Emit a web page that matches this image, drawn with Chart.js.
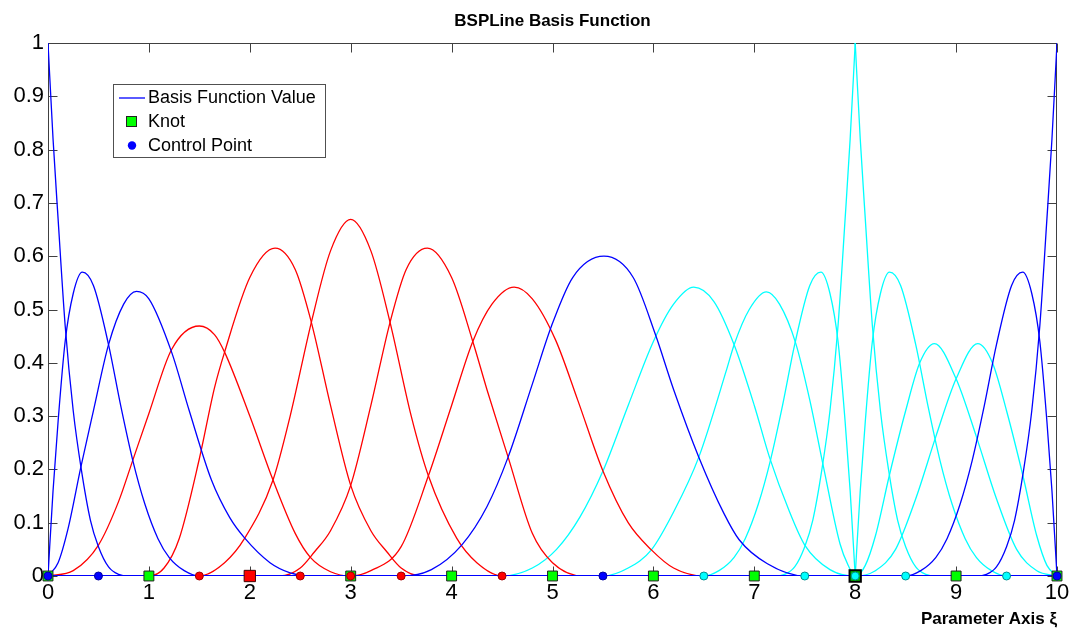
<!DOCTYPE html>
<html>
<head>
<meta charset="utf-8">
<script src="https://cdn.jsdelivr.net/npm/chart.js@4.4.1/dist/chart.umd.min.js"></script>
<style>
  body { margin: 0; background: #fff; }
  #wrap { width: 1070px; height: 628px; }
</style>
</head>
<body>
<div id="wrap"><canvas id="chart" width="1070" height="628"></canvas></div>
<script>
// basis function samples, [xi, value]
const B0 = [[0,1],[0.05,0.82],[0.1,0.67],[0.17,0.47],[0.25,0.31],[0.33,0.2],[0.42,0.105],[0.5,0.055],[0.6,0.017],[0.7,0.003],[0.8,0],[10,0]];
const B1 = [[0,0],[0.05,0.16],[0.1,0.29],[0.17,0.44],[0.25,0.53],[0.34,0.57],[0.45,0.545],[0.6,0.434],[0.72,0.32],[0.84,0.217],[0.96,0.135],[1.09,0.07],[1.2,0.035],[1.35,0.01],[1.5,0],[10,0]];
const B2 = [[0,0],[0.1,0.025],[0.2,0.09],[0.325,0.204],[0.45,0.31],[0.6,0.434],[0.75,0.51],[0.877,0.534],[1.0,0.52],[1.225,0.42],[1.4,0.31],[1.62,0.18],[1.8,0.11],[1.95,0.071],[2.2,0.025],[2.4,0.006],[2.6,0],[10,0]];
const B3 = [[0,0],[0.25,0.01],[0.5,0.058],[0.7,0.14],[0.84,0.217],[1.0,0.305],[1.225,0.425],[1.5,0.469],[1.65,0.453],[1.75,0.42],[2.0,0.3],[2.23,0.18],[2.45,0.08],[2.6,0.035],[2.8,0.008],[3.0,0],[10,0]];
const B4 = [[0,0],[1.0,0],[1.15,0.015],[1.3,0.07],[1.5,0.22],[1.65,0.353],[1.75,0.42],[2.0,0.56],[2.25,0.615],[2.45,0.575],[2.61,0.476],[2.8,0.32],[3.0,0.17],[3.2,0.085],[3.36,0.045],[3.5,0.015],[3.7,0],[10,0]];
const B5 = [[0,0],[1.5,0],[1.75,0.025],[1.95,0.071],[2.23,0.18],[2.4,0.3],[2.61,0.476],[2.8,0.61],[3.0,0.669],[3.2,0.61],[3.39,0.476],[3.6,0.3],[3.77,0.188],[4.05,0.071],[4.25,0.025],[4.5,0],[10,0]];
const B6 = [[0,0],[2.3,0],[2.5,0.015],[2.64,0.045],[2.8,0.085],[3.0,0.17],[3.2,0.32],[3.39,0.476],[3.55,0.575],[3.76,0.615],[4.0,0.56],[4.21,0.44],[4.35,0.35],[4.56,0.223],[4.8,0.08],[5.0,0.025],[5.3,0],[10,0]];
const B7 = [[0,0],[3.0,0],[3.2,0.01],[3.5,0.055],[3.77,0.188],[4.0,0.32],[4.21,0.44],[4.4,0.51],[4.62,0.542],[4.8,0.52],[5.03,0.443],[5.25,0.33],[5.5,0.197],[5.75,0.1],[5.98,0.049],[6.2,0.015],[6.5,0],[10,0]];
const B8 = [[0,0],[3.5,0],[3.8,0.012],[4.1,0.058],[4.35,0.13],[4.56,0.223],[4.8,0.36],[4.99,0.469],[5.2,0.56],[5.51,0.6],[5.8,0.56],[6.02,0.453],[6.2,0.35],[6.45,0.223],[6.7,0.117],[6.85,0.068],[7.13,0.023],[7.5,0],[10,0]];
const B9 = [[0,0],[4.5,0],[4.8,0.015],[5.04,0.05],[5.27,0.11],[5.5,0.197],[5.75,0.32],[6.0,0.44],[6.2,0.51],[6.4,0.542],[6.6,0.515],[6.8,0.434],[7.0,0.32],[7.15,0.223],[7.35,0.12],[7.5,0.058],[7.75,0.012],[8.0,0],[10,0]];
const B10 = [[0,0],[5.5,0],[5.75,0.015],[5.98,0.049],[6.2,0.12],[6.45,0.223],[6.73,0.39],[6.8,0.434],[6.95,0.5],[7.12,0.533],[7.25,0.51],[7.41,0.437],[7.55,0.33],[7.68,0.21],[7.85,0.06],[7.93,0.02],[8.0,0],[10,0]];
const B11 = [[0,0],[6.5,0],[6.65,0.01],[6.8,0.035],[6.91,0.07],[7.04,0.135],[7.16,0.217],[7.28,0.32],[7.4,0.434],[7.55,0.545],[7.66,0.57],[7.75,0.53],[7.83,0.44],[7.9,0.29],[7.95,0.16],[8.0,0]];
const B12a = [[0,0],[7.2,0],[7.3,0.003],[7.4,0.017],[7.5,0.055],[7.58,0.105],[7.67,0.2],[7.75,0.31],[7.83,0.47],[7.9,0.67],[7.95,0.82],[8,1]];
const B12b = [[8,1],[8.05,0.82],[8.1,0.67],[8.17,0.47],[8.25,0.31],[8.33,0.2],[8.42,0.105],[8.5,0.055],[8.6,0.017],[8.7,0.003],[8.8,0],[10,0]];
const B13 = [[8,0],[8.05,0.16],[8.1,0.29],[8.17,0.44],[8.25,0.53],[8.34,0.57],[8.45,0.545],[8.6,0.434],[8.72,0.32],[8.84,0.217],[8.96,0.135],[9.09,0.07],[9.2,0.035],[9.35,0.01],[9.5,0],[10,0]];
const B14 = [[0,0],[8,0],[8.1,0.02],[8.2,0.075],[8.34,0.19],[8.5,0.31],[8.64,0.4],[8.785,0.436],[9.0,0.37],[9.2,0.262],[9.4,0.145],[9.6,0.05],[9.8,0.01],[10,0]];
const B15 = [[0,0],[8,0],[8.2,0.01],[8.4,0.05],[8.6,0.145],[8.8,0.262],[9.0,0.37],[9.215,0.436],[9.36,0.4],[9.5,0.31],[9.66,0.19],[9.8,0.075],[9.9,0.02],[10,0]];
const B16 = [[0,0],[8.5,0],[8.65,0.01],[8.8,0.035],[8.91,0.07],[9.04,0.135],[9.16,0.217],[9.28,0.32],[9.4,0.434],[9.55,0.545],[9.66,0.57],[9.75,0.53],[9.83,0.44],[9.9,0.29],[9.95,0.16],[10,0]];
const B17 = [[0,0],[9.2,0],[9.3,0.003],[9.4,0.017],[9.5,0.055],[9.58,0.105],[9.67,0.2],[9.75,0.31],[9.83,0.47],[9.9,0.67],[9.95,0.82],[10,1]];

const blueCurves = [B0, B1, B2, B8, B16, B17];
const redCurves = [B3, B4, B5, B6, B7];
const cyanCurves = [B9, B10, B11, B12a, B12b, B13, B14, B15];

// knots and control points on the parameter axis
const knotsPlain = [0, 1, 3, 4, 5, 6, 7, 9, 10];
const knotRed = [2];
const knotDark = [8];
const ctrlBlue = [0, 0.5, 5.5, 10];
const ctrlRed = [1.5, 2.5, 3, 3.5, 4.5];
const ctrlCyan = [6.5, 7.5, 8, 8.5, 9.5];

const xTickLabels = ['0','1','2','3','4','5','6','7','8','9','10'];
const yTickLabels = ['0','0.1','0.2','0.3','0.4','0.5','0.6','0.7','0.8','0.9','1'];
const chartTitle = 'BSPLine Basis Function';

const FONT = "'Liberation Sans', Arial, sans-serif";
const BLUE = '#0000ff', RED = '#ff0000', CYAN = '#00ffff';

function curve(data, color) {
  return {
    type: 'line', data, borderColor: color, borderWidth: 1.3,
    pointRadius: 0, fill: false, cubicInterpolationMode: 'monotone', order: 3
  };
}

function markers(xs, opts) {
  return Object.assign({
    type: 'scatter', data: xs.map(v => ({ x: v, y: 0 })), clip: false, showLine: false
  }, opts);
}

const datasets = [
  ...blueCurves.map(d => curve(d, BLUE)),
  ...redCurves.map(d => curve(d, RED)),
  ...cyanCurves.map(d => curve(d, CYAN)),
  markers(knotsPlain, { pointStyle: 'rect', pointRadius: 7, backgroundColor: '#00ff00', borderColor: '#222', borderWidth: 1, order: 2 }),
  markers(knotRed, { pointStyle: 'rect', pointRadius: 8, backgroundColor: RED, borderColor: '#400', borderWidth: 1, order: 2 }),
  markers(knotDark, { pointStyle: 'rect', pointRadius: 8, backgroundColor: '#00c000', borderColor: '#000', borderWidth: 2, order: 2 }),
  markers(ctrlBlue, { pointStyle: 'circle', pointRadius: 4, backgroundColor: BLUE, borderColor: '#0000a0', borderWidth: 1, order: 1 }),
  markers(ctrlRed, { pointStyle: 'circle', pointRadius: 4, backgroundColor: RED, borderColor: '#a00000', borderWidth: 1, order: 1 }),
  markers(ctrlCyan, { pointStyle: 'circle', pointRadius: 4, backgroundColor: CYAN, borderColor: '#009090', borderWidth: 1, order: 1 })
];

// box with inward ticks on all four sides
const boxAxes = {
  id: 'boxAxes',
  beforeDatasetsDraw(chart) {
    const { ctx, chartArea: a, scales: { x, y } } = chart;
    const L = Math.round(a.left) + 0.5, R = Math.round(a.right) - 0.5;
    const T = Math.round(a.top) + 0.5, B = Math.round(a.bottom) - 0.5;
    ctx.save();
    ctx.strokeStyle = '#404040';
    ctx.lineWidth = 1;
    ctx.strokeRect(L, T, R - L, B - T);
    ctx.beginPath();
    x.ticks.forEach(t => {
      const px = Math.round(x.getPixelForValue(t.value)) + 0.5;
      ctx.moveTo(px, B); ctx.lineTo(px, B - 9);
      ctx.moveTo(px, T); ctx.lineTo(px, T + 9);
    });
    y.ticks.forEach(t => {
      const py = Math.round(y.getPixelForValue(t.value)) + 0.5;
      ctx.moveTo(L, py); ctx.lineTo(L + 9, py);
      ctx.moveTo(R, py); ctx.lineTo(R - 9, py);
    });
    ctx.stroke();
    ctx.restore();
  }
};

// title centred over the plot box, and the legend box inside it
const boxLegend = {
  id: 'boxLegend',
  afterDraw(chart) {
    const { ctx, chartArea: a } = chart;
    ctx.save();
    ctx.fillStyle = '#000';
    ctx.font = 'bold 17px ' + FONT;
    ctx.textAlign = 'center';
    ctx.textBaseline = 'middle';
    ctx.fillText(chartTitle, (a.left + a.right) / 2, 21);

    ctx.textAlign = 'left';
    ctx.fillStyle = '#fff';
    ctx.fillRect(113, 84, 213, 74);
    ctx.strokeStyle = '#505050';
    ctx.lineWidth = 1;
    ctx.strokeRect(113.5, 84.5, 212, 73);
    ctx.strokeStyle = BLUE;
    ctx.lineWidth = 1.3;
    ctx.beginPath(); ctx.moveTo(119, 98); ctx.lineTo(145, 98); ctx.stroke();
    ctx.fillStyle = '#00ff00';
    ctx.fillRect(127, 117, 9, 9);
    ctx.strokeStyle = '#222';
    ctx.lineWidth = 1;
    ctx.strokeRect(126.5, 116.5, 10, 10);
    ctx.fillStyle = BLUE;
    ctx.beginPath(); ctx.arc(132, 145.5, 4.2, 0, Math.PI * 2); ctx.fill();
    ctx.fillStyle = '#000';
    ctx.font = '18px ' + FONT;
    ctx.fillText('Basis Function Value', 148, 98);
    ctx.fillText('Knot', 148, 122);
    ctx.fillText('Control Point', 148, 146);
    ctx.restore();
  }
};

new Chart(document.getElementById('chart'), {
  type: 'line',
  data: { datasets },
  options: {
    responsive: false,
    animation: false,
    events: [],
    layout: { padding: { left: 0, right: 13, top: 43, bottom: 0 } },
    plugins: {
      legend: { display: false },
      tooltip: { enabled: false },
      title: { display: false }
    },
    scales: {
      x: {
        type: 'linear', min: 0, max: 10,
        grid: { display: false, drawTicks: false },
        border: { display: false },
        ticks: {
          stepSize: 1, color: '#000', padding: 4, maxRotation: 0,
          font: { family: FONT, size: 22 },
          callback: (v, i) => xTickLabels[i]
        },
        title: {
          display: true, text: 'Parameter Axis ξ', align: 'end', color: '#000',
          font: { family: FONT, size: 17, weight: 'bold', lineHeight: 1.2 },
          padding: { top: 0, bottom: -2 }
        },
        afterFit: s => { s.height = 52; s.paddingLeft = 0; s.paddingRight = 0; }
      },
      y: {
        type: 'linear', min: 0, max: 1,
        grid: { display: false, drawTicks: false },
        border: { display: false },
        ticks: {
          stepSize: 0.1, color: '#000', padding: 4,
          font: { family: FONT, size: 22 },
          callback: (v, i) => yTickLabels[i]
        },
        afterFit: s => { s.width = 48; s.paddingTop = 0; s.paddingBottom = 0; }
      }
    }
  },
  plugins: [boxAxes, boxLegend]
});
</script>
</body>
</html>
